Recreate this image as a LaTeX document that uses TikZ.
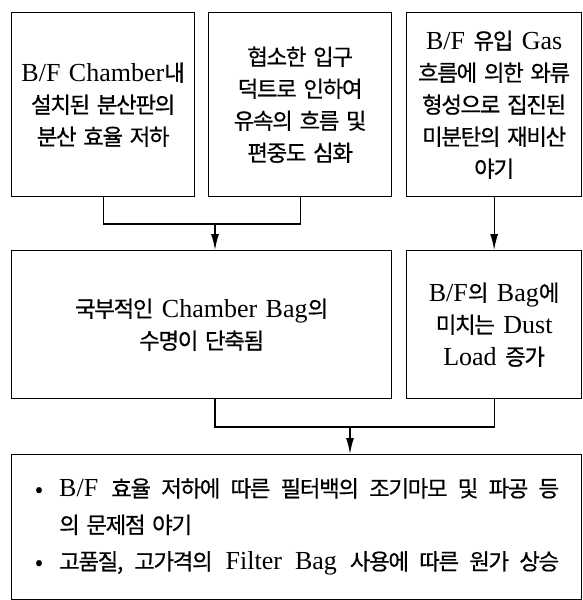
\documentclass[tikz,border=0pt]{standalone}
\usepackage{fontspec}
\setmainfont{Liberation Serif}[Scale=1.3,WordSpace=1.3]
\newfontfamily\krfont{Noto Sans CJK KR}[Scale=1.12,LetterSpace=-6,WordSpace=1.8,FakeBold=0.6]
\newcommand\K[1]{{\krfont #1}}
\usetikzlibrary{arrows.meta}
\begin{document}
\begin{tikzpicture}[x=1pt,y=-1pt,
  box/.style={draw=black,line width=1.3pt,anchor=north west,inner sep=0pt,align=center,
    font=\fontsize{20}{32}\selectfont},
  conn/.style={draw=black,line width=1.3pt},
  arr/.style={conn,-{Latex[length=16pt,width=8pt]}}]
\useasboundingbox (0,0) rectangle (583,600);
\node[box,minimum width=183pt,minimum height=184pt] (b1) at (11,12)
  {B/F Chamber\K{내}\\\K{설치된 분산판의}\\\K{분산 효율 저하}};
\node[box,minimum width=183pt,minimum height=184pt] (b2) at (208,12)
  {\K{협소한 입구}\\\K{덕트로 인하여}\\\K{유속의 흐름 및}\\\K{편중도 심화}};
\node[box,minimum width=175pt,minimum height=184pt] (b3) at (406,12)
  {B/F \K{유입} Gas\\\K{흐름에 의한 와류}\\\K{형성으로 집진된}\\\K{미분탄의 재비산}\\\K{야기}};
\node[box,minimum width=380pt,minimum height=148pt] (b4) at (11,250)
  {\K{국부적인} Chamber Bag\K{의}\\\K{수명이 단축됨}};
\node[box,minimum width=175pt,minimum height=148pt] (b5) at (406,250)
  {B/F\K{의} Bag\K{에}\\\K{미치는} Dust\\Load \K{증가}};
\node[box,minimum width=570pt,minimum height=145pt] (b6) at (11,454) {};
\node[anchor=north west,inner sep=0pt,align=left,font=\fontsize{20}{36.5}\selectfont] (t6) at (35,478)
  {\makebox[24pt][l]{\K{•}}\makebox[500pt][s]{B/F \K{효율 저하에 따른 필터백의 조기마모 및 파공 등}}\\
   \hspace*{24pt}\K{의 문제점 야기}\\
   \makebox[24pt][l]{\K{•}}\makebox[500pt][s]{\K{고품질, 고가격의} Filter Bag \K{사용에 따른 원가 상승}}};
\coordinate (j1) at (215,224);
\coordinate (j2) at (350,427);
\draw[conn] (b1.south) |- (j1) -| (b2.south);
\draw[arr] (j1) -- (j1 |- b4.north);
\draw[arr] (b3.south) -- (b3.south |- b5.north);
\draw[conn] (b4.south -| j1) |- (j2) -| (b5.south);
\draw[arr] (j2) -- (j2 |- b6.north);
\end{tikzpicture}
\end{document}
